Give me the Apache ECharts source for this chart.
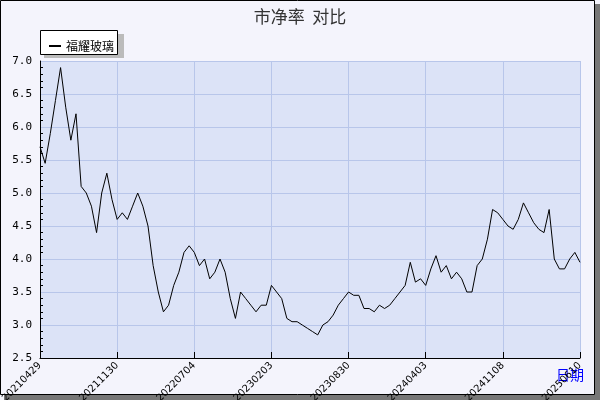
<!DOCTYPE html>
<html><head><meta charset="utf-8">
<script src="https://cdn.jsdelivr.net/npm/echarts@6/dist/echarts.min.js"></script>
<style>html,body{margin:0;padding:0;background:#fff}#c{width:600px;height:400px}</style>
</head><body><div id="c"></div>
<script>
var tickLabels = ['20210429','20211130','20220704','20230203','20230830','20240403','20241108','20250610'];
var values = [5.7,5.45,5.9,6.4,6.9,6.3,5.8,6.2,5.1,5.0,4.8,4.4,5.0,5.3,4.9,4.6,4.7,4.6,4.8,5.0,
4.8,4.5,3.9,3.5,3.2,3.3,3.6,3.8,4.1,4.2,4.1,3.9,4.0,3.7,3.8,4.0,3.8,3.4,3.1,3.5,
3.4,3.3,3.2,3.3,3.3,3.6,3.5,3.4,3.1,3.05,3.05,3.0,2.95,2.9,2.85,3.0,3.05,3.15,3.3,3.4,
3.5,3.45,3.45,3.25,3.25,3.2,3.3,3.25,3.3,3.4,3.5,3.6,3.95,3.65,3.7,3.6,3.85,4.05,3.8,3.9,
3.7,3.8,3.7,3.5,3.5,3.9,4.0,4.3,4.75,4.7,4.6,4.5,4.45,4.6,4.85,4.7,4.55,4.45,4.4,4.75,
4.0,3.85,3.85,4.0,4.1,3.95];
var step = 15;
var categories = values.map(function(v,i){ return i%step===0 ? tickLabels[i/step] : ''; });
var chart = echarts.init(document.getElementById('c'));
chart.setOption({
  animation:false,
  backgroundColor:'#f4f4fc',
  graphic:[
    {type:'rect',shape:{x:4,y:4,width:596,height:396},style:{fill:'#777'},z:-10},
    {type:'rect',shape:{x:0.5,y:0.5,width:594,height:394},style:{fill:'#f4f4fc',stroke:'#000',lineWidth:1},z:-9},
    {type:'rect',shape:{x:44,y:34,width:80,height:24},style:{fill:'#bbb'},z:-1},
    {type:'rect',shape:{x:40.5,y:30.5,width:77,height:24},style:{fill:'#fff',stroke:'#000',lineWidth:1},z:-1},
    {type:'text',left:556,top:368,style:{text:'日期',fill:'#0000ff',font:'14px "Noto Sans CJK SC"'}}
  ],
  title:{text:'市净率  对比',left:'center',top:3,textStyle:{fontSize:17,fontWeight:'normal',color:'#333',fontFamily:'Noto Sans CJK SC'}},
  legend:{left:44,top:35,itemWidth:12,itemHeight:2,itemGap:4,icon:'rect',
    textStyle:{fontSize:12,color:'#000',fontFamily:'Noto Sans CJK SC'},data:['福耀玻璃']},
  grid:{left:40,right:20,top:61,bottom:42,outerBoundsMode:'none',containLabel:false,show:true,backgroundColor:'#dce3f7',borderWidth:0},
  xAxis:{type:'category',data:categories,boundaryGap:false,
    axisLine:{lineStyle:{color:'#000'}},
    axisTick:{interval:function(i){return i%step===0;},length:-6,lineStyle:{color:'#000'}},
    axisLabel:{interval:function(i){return i%step===0;},rotate:45,fontSize:10,color:'#000',margin:6,fontFamily:'DejaVu Sans'},
    splitLine:{show:true,interval:function(i){return i%step===0;},lineStyle:{color:'#b8c6ea'}}},
  yAxis:{type:'value',min:2.5,max:7.0,interval:0.5,
    axisLine:{show:true,lineStyle:{color:'#000'}},
    axisTick:{length:-5,lineStyle:{color:'#000'}},
    minorTick:{show:true,splitNumber:5,length:-3,lineStyle:{color:'#000'}},
    axisLabel:{fontSize:11,color:'#000',formatter:function(v){return v.toFixed(1);},fontFamily:'DejaVu Sans Mono'},
    splitLine:{lineStyle:{color:'#b8c6ea'}}},
  series:[{name:'福耀玻璃',type:'line',data:values,symbol:'none',lineStyle:{color:'#000',width:1},itemStyle:{color:'#000'}}]
});
</script></body></html>
